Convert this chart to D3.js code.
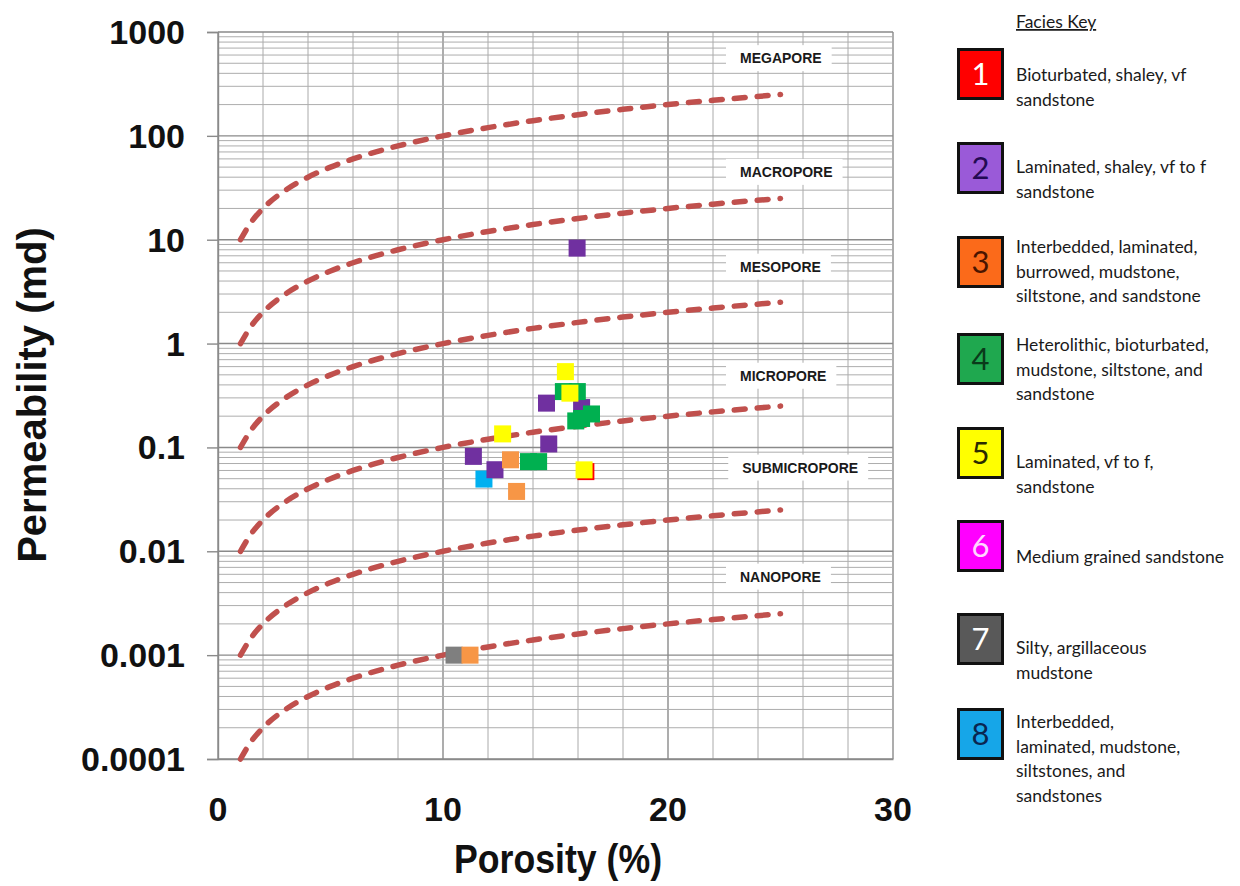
<!DOCTYPE html>
<html>
<head>
<meta charset="utf-8">
<script src="https://cdn.jsdelivr.net/npm/d3@7"></script>
<style>
  body { margin: 0; background: #fff; }
  svg { display: block; }
</style>
</head>
<body>
<svg id="chart" width="1240" height="886"></svg>
<script>
// ---- Data ----
const porosityTicks = [0, 10, 20, 30];
const permTicks = [0.0001, 0.001, 0.01, 0.1, 1, 10, 100, 1000];
const permTickLabels = ["0.0001", "0.001", "0.01", "0.1", "1", "10", "100", "1000"];

// Iso-pore-throat reference lines (permeability, md) sampled along porosity (%)
const curvePorosity = [1, 1.5, 2, 3, 4, 5, 6, 8, 10, 12, 14, 16, 18, 20, 22, 25];
const curveMegaMacro = [10, 15, 20, 30, 40, 50, 60, 80, 100, 120, 140, 160, 180, 200, 220, 250];
const curveMacroMeso = [1, 1.5, 2, 3, 4, 5, 6, 8, 10, 12, 14, 16, 18, 20, 22, 25];
const curveMesoMicro = [0.1, 0.15, 0.2, 0.3, 0.4, 0.5, 0.6, 0.8, 1, 1.2, 1.4, 1.6, 1.8, 2, 2.2, 2.5];
const curveMicroSub = [0.01, 0.015, 0.02, 0.03, 0.04, 0.05, 0.06, 0.08, 0.1, 0.12, 0.14, 0.16, 0.18, 0.2, 0.22, 0.25];
const curveSubNano = [0.001, 0.0015, 0.002, 0.003, 0.004, 0.005, 0.006, 0.008, 0.01, 0.012, 0.014, 0.016, 0.018, 0.02, 0.022, 0.025];
const curveNanoBase = [0.0001, 0.00015, 0.0002, 0.0003, 0.0004, 0.0005, 0.0006, 0.0008, 0.001, 0.0012, 0.0014, 0.0016, 0.0018, 0.002, 0.0022, 0.0025];
const poreCurves = [curveMegaMacro, curveMacroMeso, curveMesoMicro, curveMicroSub, curveSubNano, curveNanoBase];

// Pore-type class names and where they sit (porosity %, permeability md)
const poreClasses = ["MEGAPORE", "MACROPORE", "MESOPORE", "MICROPORE", "SUBMICROPORE", "NANOPORE"];
const poreLabelPorosity = [23.2, 23.2, 23.2, 23.2, 23.3, 23.2];
const poreLabelPerm = [560, 45, 5.5, 0.49, 0.064, 0.0057];

// Samples per facies: porosity (%) and permeability (md)
const faciesIds = [1, 2, 3, 4, 5, 6, 7, 8];
const faciesPorosity = {
  1: [16.35],
  8: [11.82],
  7: [10.49],
  2: [15.96, 14.6, 16.16, 14.7, 11.35, 12.31],
  3: [13.0, 13.27, 11.2],
  4: [15.35, 15.97, 15.9, 16.16, 16.6, 13.8, 14.25],
  5: [15.44, 15.64, 12.65, 16.27],
  6: []
};
const faciesPerm = {
  1: [0.0585],
  8: [0.0496],
  7: [0.001],
  2: [8.3, 0.267, 0.242, 0.108, 0.082, 0.061],
  3: [0.076, 0.0377, 0.001],
  4: [0.345, 0.345, 0.18, 0.19, 0.21, 0.073, 0.073],
  5: [0.537, 0.333, 0.135, 0.0608],
  6: []
};
const drawOrder = [1, 8, 7, 2, 3, 4, 5, 6];

// Facies key
const faciesDescriptions = [
  ["Bioturbated, shaley, vf", "sandstone"],
  ["Laminated, shaley, vf to f", "sandstone"],
  ["Interbedded, laminated,", "burrowed, mudstone,", "siltstone, and sandstone"],
  ["Heterolithic, bioturbated,", "mudstone, siltstone, and", "sandstone"],
  ["Laminated, vf to f,", "sandstone"],
  ["Medium grained sandstone"],
  ["Silty, argillaceous", "mudstone"],
  ["Interbedded,", "laminated, mudstone,", "siltstones, and", "sandstones"]
];

// ---- Styles ----
const markerColors = {1: "#ff0000", 2: "#7030a0", 3: "#f79646", 4: "#00b050", 5: "#ffff00", 6: "#ff00ff", 7: "#7f7f7f", 8: "#00b0f0"};
const keyFill = ["#ff0000", "#9a5ad8", "#fb6a1a", "#1fa84f", "#ffff00", "#ff00ff", "#595959", "#16a6e8"];
const keyNumColor = ["#ffffff", "#230a52", "#4a1500", "#0a3a1a", "#2b2b00", "#ffd6ff", "#ffffff", "#0a2650"];

// ---- Layout ----
const plot = {left: 218, right: 893, top: 32, bottom: 759};
const svg = d3.select("#chart");

const x = d3.scaleLinear().domain([0, 30]).range([plot.left, plot.right]);
const y = d3.scaleLog().domain([0.0001, 1000]).range([plot.bottom, plot.top]);

// Grid
const grid = svg.append("g");
const xGrid = x.ticks(15);
grid.selectAll("line.vx").data(xGrid).join("line")
  .attr("x1", d => x(d)).attr("x2", d => x(d))
  .attr("y1", plot.top).attr("y2", plot.bottom)
  .attr("stroke", d => d % 10 === 0 ? "#8a8a8a" : "#aaaaaa")
  .attr("stroke-width", d => d % 10 === 0 ? 1.4 : 1);

const yGrid = y.ticks();
const isDecade = d => Math.abs(Math.log10(d) - Math.round(Math.log10(d))) < 1e-9;
grid.selectAll("line.hy").data(yGrid).join("line")
  .attr("x1", plot.left).attr("x2", plot.right)
  .attr("y1", d => y(d)).attr("y2", d => y(d))
  .attr("stroke", d => isDecade(d) ? "#8a8a8a" : "#adadad")
  .attr("stroke-width", d => isDecade(d) ? 1.4 : 1);

// Axes
const yAxis = d3.axisLeft(y).tickValues(permTicks).tickSize(11).tickFormat("");
const yAxisG = svg.append("g").attr("transform", `translate(${plot.left},0)`).call(yAxis);
yAxisG.select(".domain").attr("stroke", "#8a8a8a").attr("stroke-width", 1.4);
yAxisG.selectAll(".tick line").attr("stroke", "#8a8a8a").attr("stroke-width", 1.4);

const xAxis = d3.axisBottom(x).tickValues(porosityTicks).tickSize(0).tickFormat("");
const xAxisG = svg.append("g").attr("transform", `translate(0,${plot.bottom})`).call(xAxis);
xAxisG.select(".domain").attr("stroke", "#8a8a8a").attr("stroke-width", 1.4);

// Tick labels
svg.append("g").selectAll("text").data(permTicks).join("text")
  .attr("x", 185).attr("y", d => y(d) + 12)
  .attr("text-anchor", "end")
  .attr("font-family", "Liberation Sans, Arial, sans-serif")
  .attr("font-weight", "bold").attr("font-size", 34).attr("fill", "#111")
  .text((d, i) => permTickLabels[i]);

svg.append("g").selectAll("text").data(porosityTicks).join("text")
  .attr("x", d => x(d)).attr("y", 821)
  .attr("text-anchor", "middle")
  .attr("font-family", "Liberation Sans, Arial, sans-serif")
  .attr("font-weight", "bold").attr("font-size", 34).attr("fill", "#111")
  .text(d => d);

// Axis titles
svg.append("text")
  .attr("transform", "translate(46,395) rotate(-90)")
  .attr("text-anchor", "middle")
  .attr("font-family", "Liberation Sans, Arial, sans-serif")
  .attr("font-weight", "bold").attr("font-size", 40).attr("fill", "#111")
  .text("Permeability (md)");

svg.append("text")
  .attr("x", 558).attr("y", 873)
  .attr("text-anchor", "middle")
  .attr("font-family", "Liberation Sans, Arial, sans-serif")
  .attr("font-weight", "bold").attr("font-size", 40).attr("fill", "#111")
  .attr("textLength", 208).attr("lengthAdjust", "spacingAndGlyphs")
  .text("Porosity (%)");

// Pore class labels on white boxes
const labelG = svg.append("g");
poreClasses.forEach((name, i) => {
  const g = labelG.append("g");
  const t = g.append("text")
    .attr("x", x(poreLabelPorosity[i])).attr("y", y(poreLabelPerm[i]) + 5)
    .attr("font-family", "Liberation Sans, Arial, sans-serif")
    .attr("font-weight", "bold").attr("font-size", 14).attr("fill", "#1a1a1a")
    .text(name);
  const b = t.node().getBBox();
  g.insert("rect", "text")
    .attr("x", b.x - 14).attr("y", b.y - 5)
    .attr("width", b.width + 24).attr("height", b.height + 10)
    .attr("fill", "#ffffff");
});

// Dashed reference curves
const line = d3.line()
  .x((d, i) => x(curvePorosity[i]))
  .y(d => y(d))
  .curve(d3.curveMonotoneX);
svg.append("g").selectAll("path").data(poreCurves).join("path")
  .attr("d", d => line(d))
  .attr("fill", "none")
  .attr("stroke", "#c0504d")
  .attr("stroke-width", 5.5)
  .attr("stroke-linecap", "round")
  .attr("stroke-dasharray", "11,12");

// Samples
const size = 17;
const pts = svg.append("g");
drawOrder.forEach(id => {
  const rows = faciesPorosity[id].map((p, i) => ({p, k: faciesPerm[id][i]}));
  pts.append("g").selectAll("rect").data(rows).join("rect")
    .attr("x", d => x(d.p) - size / 2)
    .attr("y", d => y(d.k) - size / 2)
    .attr("width", size).attr("height", size)
    .attr("fill", markerColors[id]);
});

// Facies key
const key = svg.append("g");
key.append("text")
  .attr("x", 1016).attr("y", 28)
  .attr("font-family", "Lato, Open Sans, sans-serif")
  .attr("font-size", 17.5).attr("fill", "#1a1a1a")
  .attr("text-decoration", "underline")
  .text("Facies Key");

const boxTop = [48, 142, 236, 333, 427, 520, 613, 708];
const firstLineY = [81, 173, 253, 351, 468, 563, 654, 728];
faciesIds.forEach((id, i) => {
  const g = key.append("g");
  g.append("rect")
    .attr("x", 958.5).attr("y", boxTop[i] + 1.5)
    .attr("width", 44).attr("height", 49)
    .attr("fill", keyFill[i])
    .attr("stroke", "#111").attr("stroke-width", 3);
  g.append("text")
    .attr("x", 980.5).attr("y", boxTop[i] + 37)
    .attr("text-anchor", "middle")
    .attr("font-family", "Lato, Open Sans, sans-serif")
    .attr("font-size", 31).attr("fill", keyNumColor[i])
    .text(id);
  const t = g.append("text")
    .attr("font-family", "Lato, Open Sans, sans-serif")
    .attr("font-size", 17.5).attr("fill", "#1a1a1a");
  faciesDescriptions[i].forEach((ln, j) => {
    t.append("tspan").attr("x", 1016).attr("y", firstLineY[i] + j * 24.7).text(ln);
  });
});
</script>
</body>
</html>
